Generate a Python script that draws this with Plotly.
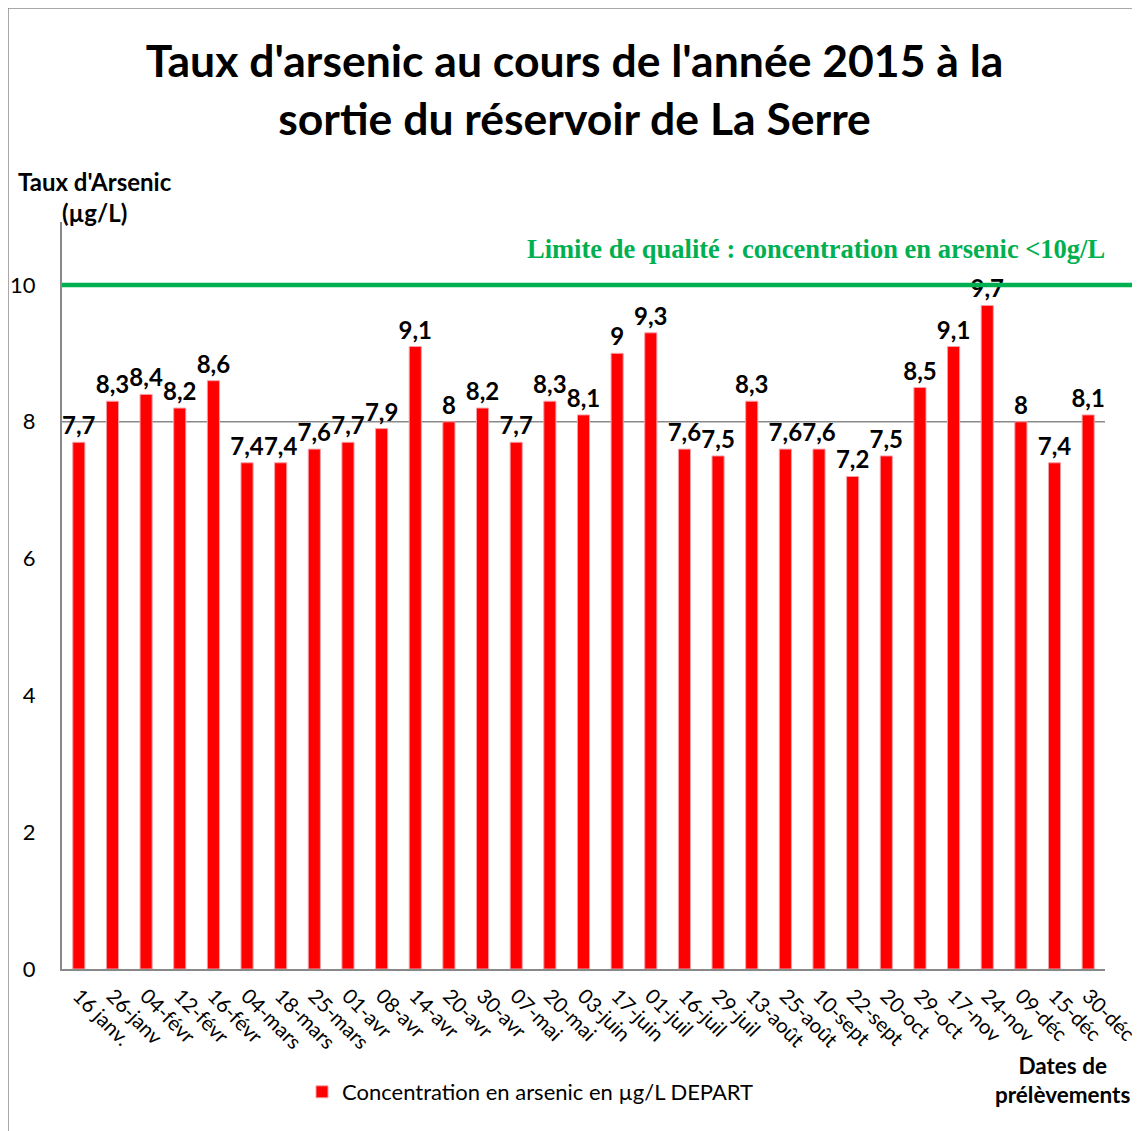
import plotly.graph_objects as go

dates = ["16 janv.", "26-janv", "04-févr", "12-févr", "16-févr", "04-mars", "18-mars", "25-mars",
         "01-avr", "08-avr", "14-avr", "20-avr", "30-avr", "07-mai", "20-mai", "03-juin", "17-juin",
         "01-juil", "16-juil", "29-juil", "13-août", "25-août", "10-sept", "22-sept", "20-oct",
         "29-oct", "17-nov", "24-nov", "09-déc", "15-déc", "30-déc"]
arsenic = [7.7, 8.3, 8.4, 8.2, 8.6, 7.4, 7.4, 7.6, 7.7, 7.9, 9.1, 8, 8.2, 7.7, 8.3, 8.1, 9,
           9.3, 7.6, 7.5, 8.3, 7.6, 7.6, 7.2, 7.5, 8.5, 9.1, 9.7, 8, 7.4, 8.1]
limit = 10
y_ticks = [0, 2, 4, 6, 8, 10]

labels = [f"{v:g}".replace(".", ",") for v in arsenic]

O = 8  # page body margin offset
W, H = 1140 - O, 1131 - O
L, T = 62 - O, 222 - O
bottom, right = 969 - O, 1105 - O
R, B = W - right, H - bottom
pw, ph = right - L, bottom - T


def px(x):
    return (x - O - L) / pw


def py(y):
    return (bottom - (y - O)) / ph


fig = go.Figure()
fig.add_trace(go.Bar(
    x=dates, y=arsenic, name="Concentration en arsenic en µg/L DEPART",
    marker=dict(color="#FF0000", line=dict(color="#F4A0A8", width=1)),
    text=labels, textposition="outside", cliponaxis=False, constraintext="none",
    textfont=dict(family="Lato", size=24, color="black", weight="bold"),
))

fig.update_layout(
    width=W, height=H,
    margin=dict(l=L, r=R, t=T, b=B, autoexpand=False),
    paper_bgcolor="white", plot_bgcolor="white",
    bargap=0.64,
    font=dict(family="Lato", color="black"),
    title=dict(text="<b>Taux d'arsenic au cours de l'année 2015 à la<br>sortie du réservoir de La Serre</b>",
               x=px(584), xanchor="center", y=py(77) * ph / H + B / H, yanchor="middle",
               font=dict(family="Lato", size=44.5, color="black")),
    xaxis=dict(tickangle=45, tickfont=dict(size=20.5, family="Lato"), showline=True,
               linecolor="#898989", linewidth=2, ticks="", showgrid=False, automargin=False,
               ticklabelstandoff=5),
    yaxis=dict(range=[0, 10.92], tickvals=y_ticks, tickfont=dict(size=22, family="Lato"),
               showline=True, linecolor="#898989", linewidth=2, showgrid=False, zeroline=False,
               ticks="", ticklabelstandoff=20, automargin=False),
    showlegend=True,
    legend=dict(orientation="h", x=px(302), y=py(1092), xanchor="left",
                yanchor="middle", font=dict(size=22, family="Lato"), itemwidth=30),
)

# gridline at 8
fig.add_shape(type="line", xref="paper", yref="y", x0=0, x1=1, y0=8, y1=8,
              line=dict(color="#898989", width=1.5), layer="below")
# quality limit line
fig.add_shape(type="line", xref="paper", yref="y", x0=0, x1=px(1145), y0=limit, y1=limit,
              line=dict(color="#00B050", width=4.5))
# border
fig.add_shape(type="rect", xref="paper", yref="paper",
              x0=px(8), x1=px(1160), y0=py(1150), y1=py(8),
              line=dict(color="#8C8C8C", width=1.5))

fig.add_annotation(xref="paper", yref="paper", x=px(1107), y=py(249),
                   xanchor="right", yanchor="middle", showarrow=False,
                   text="<b>Limite de qualité : concentration en arsenic <10g/L</b>",
                   font=dict(family="Liberation Serif", size=26.5, color="#00B050"))
fig.add_annotation(xref="paper", yref="paper", x=px(95), y=py(197),
                   xanchor="center", yanchor="middle", showarrow=False, align="center",
                   text="<b>Taux d'Arsenic<br>(µg/L)</b>",
                   font=dict(family="Lato", size=24, color="black"))
fig.add_annotation(xref="paper", yref="paper", x=px(1062), y=py(1080),
                   xanchor="center", yanchor="middle", showarrow=False, align="center",
                   text="<b>Dates de<br>prélèvements</b>",
                   font=dict(family="Lato", size=22.5, color="black"))

fig.write_html("out.html")
